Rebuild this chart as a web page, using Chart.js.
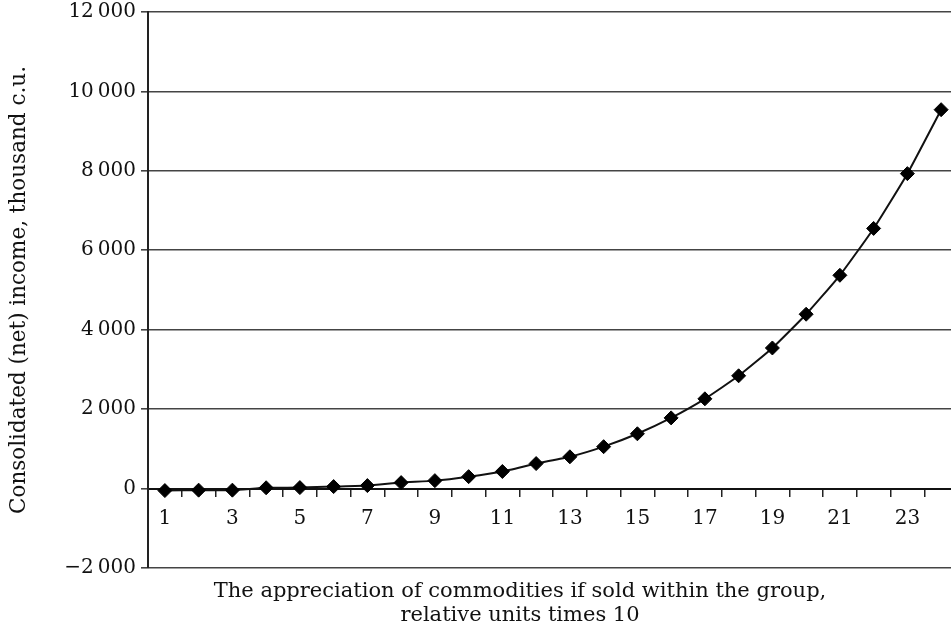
<!DOCTYPE html>
<html>
<head>
<meta charset="utf-8">
<script src="https://cdn.jsdelivr.net/npm/chart.js@4/dist/chart.umd.min.js"></script>
<style>
  html, body { margin: 0; padding: 0; background: #fff; overflow: hidden; }
  #wrap { position: absolute; left: 0; top: -5px; width: 966px; height: 636px; }
</style>
</head>
<body>
<div id="wrap"><canvas id="incomeChart"></canvas></div>
<script>
var categories = ["1", "2", "3", "4", "5", "6", "7", "8", "9", "10", "11", "12",
    "13", "14", "15", "16", "17", "18", "19", "20", "21", "22", "23", "24"];
var incomeValues = [-50, -40, -40, 20, 25, 50, 75, 150, 200, 300, 430, 630,
    800, 1055, 1380, 1780, 2260, 2840, 3540, 4390, 5370, 6550, 7930, 9540];
var yTicks = [-2000, 0, 2000, 4000, 6000, 8000, 10000, 12000];
var yTitle = "Consolidated (net) income, thousand c.u.";
var xTitle = ["The appreciation of commodities if sold within the group,", "relative units times 10"];

var fontFamily = "'DejaVu Serif', 'Liberation Serif', serif";

function fmt(v) {
    var s = Math.abs(v).toString().replace(/\B(?=(\d{3})+(?!\d))/g, "\u2009");
    return (v < 0 ? "\u2212" : "") + s;
}

// x axis caption under the plot (axis itself sits on the zero line)
var bottomTitle = {
    id: "bottomTitle",
    afterDraw: function (chart) {
        var ctx = chart.ctx;
        var a = chart.chartArea;
        ctx.save();
        ctx.font = "21px " + fontFamily;
        ctx.fillStyle = "#111";
        ctx.textAlign = "center";
        ctx.textBaseline = "middle";
        var cx = a.left + 372;
        ctx.fillText(xTitle[0], cx, a.bottom + 24);
        ctx.fillText(xTitle[1], cx, a.bottom + 48);
        ctx.restore();
    }
};

new Chart("incomeChart", {
    type: "line",
    data: {
        labels: categories,
        datasets: [{
            data: incomeValues,
            borderColor: "#111",
            borderWidth: 2,
            pointStyle: "rectRot",
            pointRadius: 7,
            pointBorderWidth: 1,
            pointBackgroundColor: "#000",
            pointBorderColor: "#000",
            tension: 0.15,
            fill: false
        }]
    },
    options: {
        responsive: true,
        maintainAspectRatio: false,
        animation: false,
        layout: { padding: { top: 0, right: 7, bottom: 63, left: 0 } },
        plugins: {
            legend: { display: false },
            tooltip: { enabled: false }
        },
        scales: {
            x: {
                type: "category",
                position: { y: 0 },
                offset: true,
                grid: {
                    display: true,
                    drawOnChartArea: false,
                    drawTicks: true,
                    tickLength: 7,
                    offset: true,
                    color: "#222",
                    lineWidth: 1.5
                },
                border: { display: true, color: "#111", width: 2 },
                ticks: {
                    autoSkip: false,
                    maxRotation: 0,
                    padding: 11,
                    color: "#111",
                    font: { family: fontFamily, size: 20 },
                    callback: function (val, i) {
                        return i % 2 === 0 ? categories[i] : "";
                    }
                }
            },
            y: {
                min: yTicks[0],
                max: yTicks[yTicks.length - 1],
                afterBuildTicks: function (scale) {
                    scale.ticks = yTicks.map(function (v) { return { value: v }; });
                },
                afterFit: function (scale) { scale.width = 148; },
                grid: {
                    color: "#444",
                    lineWidth: 1.6,
                    drawTicks: true,
                    tickLength: 7
                },
                border: { display: true, color: "#222", width: 2 },
                ticks: {
                    padding: 5,
                    color: "#111",
                    font: { family: fontFamily, size: 20 },
                    callback: function (v) { return fmt(v); }
                },
                title: {
                    display: true,
                    text: yTitle,
                    color: "#111",
                    padding: { top: 7, bottom: 0 },
                    font: { family: fontFamily, size: 21.5, weight: "normal" }
                }
            }
        }
    },
    plugins: [bottomTitle]
});
</script>
</body>
</html>
